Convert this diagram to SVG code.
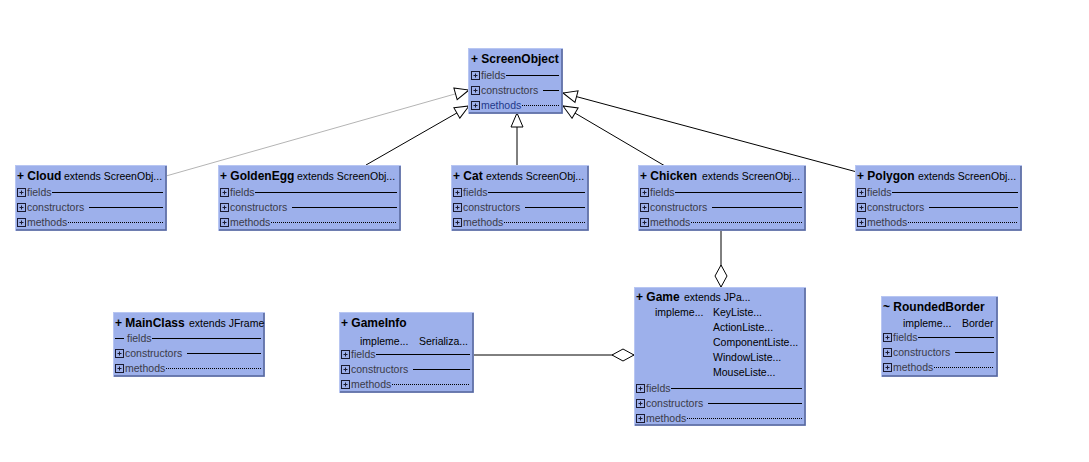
<svg xmlns="http://www.w3.org/2000/svg" width="1089" height="462" viewBox="0 0 1089 462">
  <style>
    text { font-family: "Liberation Sans", Arial, sans-serif; }
    .box { fill: #9db0eb; stroke: #b8c6f2; stroke-width: 1; }
    .shade { fill: none; stroke: #56669a; stroke-width: 1.5; }
    .title { font-size: 12px; font-weight: bold; fill: #000; }
    .meta { font-size: 10.5px; fill: #000; }
    .row { font-size: 10.5px; fill: #3a3a48; }
    .sep { stroke: #000; stroke-width: 1; }
    .dot { stroke: #000; stroke-width: 1; stroke-dasharray: 1 1; }
    .edge { fill: none; stroke: #000; stroke-width: 1; }
    .edge.light { stroke: #b4b4b4; }
  </style>
  <defs>
    <marker id="inherit" viewBox="0 0 16 14" refX="15" refY="7" markerWidth="16" markerHeight="14" orient="auto" markerUnits="userSpaceOnUse">
      <path d="M1,1 L15,7 L1,13 Z" fill="#fff" stroke="#000" stroke-width="1"/>
    </marker>
    <marker id="aggregate" viewBox="0 0 24 14" refX="23" refY="7" markerWidth="24" markerHeight="14" orient="auto" markerUnits="userSpaceOnUse">
      <path d="M1,7 L12,1 L23,7 L12,13 Z" fill="#fff" stroke="#000" stroke-width="1"/>
    </marker>
    <g id="expander">
      <rect x="0.5" y="0.5" width="8" height="8" fill="#9db0eb" stroke="#1a1a30"/>
      <path d="M2.5,4.5 H6.5 M4.5,2.5 V6.5" stroke="#1a1a30" stroke-width="1"/>
    </g>
  </defs>

  <!-- connectors -->
  <g id="connectors">
    <line class="edge light" x1="166" y1="176" x2="469" y2="90" marker-end="url(#inherit)"/>
    <line class="edge" x1="366" y1="165" x2="469" y2="106" marker-end="url(#inherit)"/>
    <line class="edge" x1="517" y1="165" x2="517" y2="113" marker-end="url(#inherit)"/>
    <line class="edge" x1="665" y1="166" x2="563" y2="106" marker-end="url(#inherit)"/>
    <line class="edge" x1="857" y1="172" x2="563" y2="93" marker-end="url(#inherit)"/>
    <line class="edge" x1="721" y1="230" x2="721" y2="287" marker-end="url(#aggregate)"/>
    <line class="edge" x1="473" y1="355" x2="634" y2="355" marker-end="url(#aggregate)"/>
  </g>

  <!-- ScreenObject -->
  <g id="ScreenObject">
    <rect class="box" x="468.5" y="48.5" width="94" height="65"/>
    <path class="shade" d="M469,113 H562 V49"/>
    <text class="title" x="471" y="63">+ ScreenObject</text>
    <use href="#expander" x="471" y="71"/>
    <text class="row" x="481" y="79">fields</text>
    <line class="sep" x1="506" y1="75.5" x2="559" y2="75.5"/>
    <use href="#expander" x="471" y="86"/>
    <text class="row" x="481" y="94">constructors</text>
    <line class="sep" x1="543" y1="90.5" x2="559" y2="90.5"/>
    <use href="#expander" x="471" y="101"/>
    <text class="row" x="481" y="109" fill="#22388a" style="fill:#22388a">methods</text>
    <line class="dot" x1="522" y1="105.5" x2="559" y2="105.5"/>
  </g>

  <!-- Cloud -->
  <g id="Cloud">
    <rect class="box" x="15.5" y="165.5" width="151" height="65"/>
    <path class="shade" d="M16,230 H166 V166"/>
    <text class="title" x="17" y="180">+ Cloud</text>
    <text class="meta" x="64" y="180">extends ScreenObj...</text>
    <use href="#expander" x="17" y="188"/>
    <text class="row" x="27" y="196">fields</text>
    <line class="sep" x1="52" y1="192.5" x2="163" y2="192.5"/>
    <use href="#expander" x="17" y="203"/>
    <text class="row" x="27" y="211">constructors</text>
    <line class="sep" x1="89" y1="207.5" x2="163" y2="207.5"/>
    <use href="#expander" x="17" y="218"/>
    <text class="row" x="27" y="226">methods</text>
    <line class="dot" x1="68" y1="222.5" x2="163" y2="222.5"/>
  </g>

  <!-- GoldenEgg -->
  <g id="GoldenEgg">
    <rect class="box" x="218.5" y="165.5" width="182" height="65"/>
    <path class="shade" d="M219,230 H400 V166"/>
    <text class="title" x="220" y="180">+ GoldenEgg</text>
    <text class="meta" x="297" y="180">extends ScreenObj...</text>
    <use href="#expander" x="220" y="188"/>
    <text class="row" x="230" y="196">fields</text>
    <line class="sep" x1="255" y1="192.5" x2="397" y2="192.5"/>
    <use href="#expander" x="220" y="203"/>
    <text class="row" x="230" y="211">constructors</text>
    <line class="sep" x1="292" y1="207.5" x2="397" y2="207.5"/>
    <use href="#expander" x="220" y="218"/>
    <text class="row" x="230" y="226">methods</text>
    <line class="dot" x1="271" y1="222.5" x2="397" y2="222.5"/>
  </g>

  <!-- Cat -->
  <g id="Cat">
    <rect class="box" x="451.5" y="165.5" width="137" height="65"/>
    <path class="shade" d="M452,230 H588 V166"/>
    <text class="title" x="453" y="180">+ Cat</text>
    <text class="meta" x="486" y="180">extends ScreenObj...</text>
    <use href="#expander" x="453" y="188"/>
    <text class="row" x="463" y="196">fields</text>
    <line class="sep" x1="488" y1="192.5" x2="585" y2="192.5"/>
    <use href="#expander" x="453" y="203"/>
    <text class="row" x="463" y="211">constructors</text>
    <line class="sep" x1="525" y1="207.5" x2="585" y2="207.5"/>
    <use href="#expander" x="453" y="218"/>
    <text class="row" x="463" y="226">methods</text>
    <line class="dot" x1="504" y1="222.5" x2="585" y2="222.5"/>
  </g>

  <!-- Chicken -->
  <g id="Chicken">
    <rect class="box" x="638.5" y="165.5" width="167" height="65"/>
    <path class="shade" d="M639,230 H805 V166"/>
    <text class="title" x="640" y="180">+ Chicken</text>
    <text class="meta" x="702" y="180">extends ScreenObj...</text>
    <use href="#expander" x="640" y="188"/>
    <text class="row" x="650" y="196">fields</text>
    <line class="sep" x1="675" y1="192.5" x2="802" y2="192.5"/>
    <use href="#expander" x="640" y="203"/>
    <text class="row" x="650" y="211">constructors</text>
    <line class="sep" x1="712" y1="207.5" x2="802" y2="207.5"/>
    <use href="#expander" x="640" y="218"/>
    <text class="row" x="650" y="226">methods</text>
    <line class="dot" x1="691" y1="222.5" x2="802" y2="222.5"/>
  </g>

  <!-- Polygon -->
  <g id="Polygon">
    <rect class="box" x="855.5" y="165.5" width="166" height="65"/>
    <path class="shade" d="M856,230 H1021 V166"/>
    <text class="title" x="857" y="180">+ Polygon</text>
    <text class="meta" x="918" y="180">extends ScreenObj...</text>
    <use href="#expander" x="857" y="188"/>
    <text class="row" x="867" y="196">fields</text>
    <line class="sep" x1="892" y1="192.5" x2="1018" y2="192.5"/>
    <use href="#expander" x="857" y="203"/>
    <text class="row" x="867" y="211">constructors</text>
    <line class="sep" x1="929" y1="207.5" x2="1018" y2="207.5"/>
    <use href="#expander" x="857" y="218"/>
    <text class="row" x="867" y="226">methods</text>
    <line class="dot" x1="908" y1="222.5" x2="1018" y2="222.5"/>
  </g>

  <!-- MainClass -->
  <g id="MainClass">
    <rect class="box" x="113.5" y="312.5" width="151" height="64"/>
    <path class="shade" d="M114,376 H264 V313"/>
    <text class="title" x="115" y="327">+ MainClass</text>
    <text class="meta" x="189" y="327">extends JFrame</text>
    <line class="sep" x1="115" y1="338.5" x2="124" y2="338.5"/>
    <text class="row" x="127" y="342">fields</text>
    <line class="sep" x1="152" y1="338.5" x2="261" y2="338.5"/>
    <use href="#expander" x="115" y="349"/>
    <text class="row" x="125" y="357">constructors</text>
    <line class="sep" x1="187" y1="353.5" x2="261" y2="353.5"/>
    <use href="#expander" x="115" y="364"/>
    <text class="row" x="125" y="372">methods</text>
    <line class="dot" x1="166" y1="368.5" x2="261" y2="368.5"/>
  </g>

  <!-- GameInfo -->
  <g id="GameInfo">
    <rect class="box" x="339.5" y="312.5" width="134" height="80"/>
    <path class="shade" d="M340,392 H473 V313"/>
    <text class="title" x="341" y="327">+ GameInfo</text>
    <text class="meta" x="360" y="345">impleme...</text>
    <text class="meta" x="419" y="345">Serializa...</text>
    <use href="#expander" x="341" y="350"/>
    <text class="row" x="351" y="358">fields</text>
    <line class="sep" x1="376" y1="354.5" x2="470" y2="354.5"/>
    <use href="#expander" x="341" y="365"/>
    <text class="row" x="351" y="373">constructors</text>
    <line class="sep" x1="413" y1="369.5" x2="470" y2="369.5"/>
    <use href="#expander" x="341" y="380"/>
    <text class="row" x="351" y="388">methods</text>
    <line class="dot" x1="392" y1="384.5" x2="470" y2="384.5"/>
  </g>

  <!-- Game -->
  <g id="Game">
    <rect class="box" x="634.5" y="287.5" width="171" height="138"/>
    <path class="shade" d="M635,425 H805 V288"/>
    <text class="title" x="636" y="301">+ Game</text>
    <text class="meta" x="684" y="301">extends JPa...</text>
    <text class="meta" x="655" y="316">impleme...</text>
    <text class="meta" x="713" y="316">KeyListe...</text>
    <text class="meta" x="713" y="331">ActionListe...</text>
    <text class="meta" x="713" y="346">ComponentListe...</text>
    <text class="meta" x="713" y="361">WindowListe...</text>
    <text class="meta" x="713" y="376">MouseListe...</text>
    <use href="#expander" x="636" y="384"/>
    <text class="row" x="646" y="392">fields</text>
    <line class="sep" x1="671" y1="388.5" x2="802" y2="388.5"/>
    <use href="#expander" x="636" y="399"/>
    <text class="row" x="646" y="407">constructors</text>
    <line class="sep" x1="708" y1="403.5" x2="802" y2="403.5"/>
    <use href="#expander" x="636" y="414"/>
    <text class="row" x="646" y="422">methods</text>
    <line class="dot" x1="687" y1="418.5" x2="802" y2="418.5"/>
  </g>

  <!-- RoundedBorder -->
  <g id="RoundedBorder">
    <rect class="box" x="881.5" y="296.5" width="116" height="80"/>
    <path class="shade" d="M882,376 H997 V297"/>
    <text class="title" x="883" y="311">~ RoundedBorder</text>
    <text class="meta" x="903" y="327">impleme...</text>
    <text class="meta" x="962" y="327">Border</text>
    <use href="#expander" x="883" y="333"/>
    <text class="row" x="893" y="341">fields</text>
    <line class="sep" x1="918" y1="337.5" x2="994" y2="337.5"/>
    <use href="#expander" x="883" y="348"/>
    <text class="row" x="893" y="356">constructors</text>
    <line class="sep" x1="955" y1="352.5" x2="994" y2="352.5"/>
    <use href="#expander" x="883" y="363"/>
    <text class="row" x="893" y="371">methods</text>
    <line class="dot" x1="934" y1="367.5" x2="994" y2="367.5"/>
  </g>
</svg>
